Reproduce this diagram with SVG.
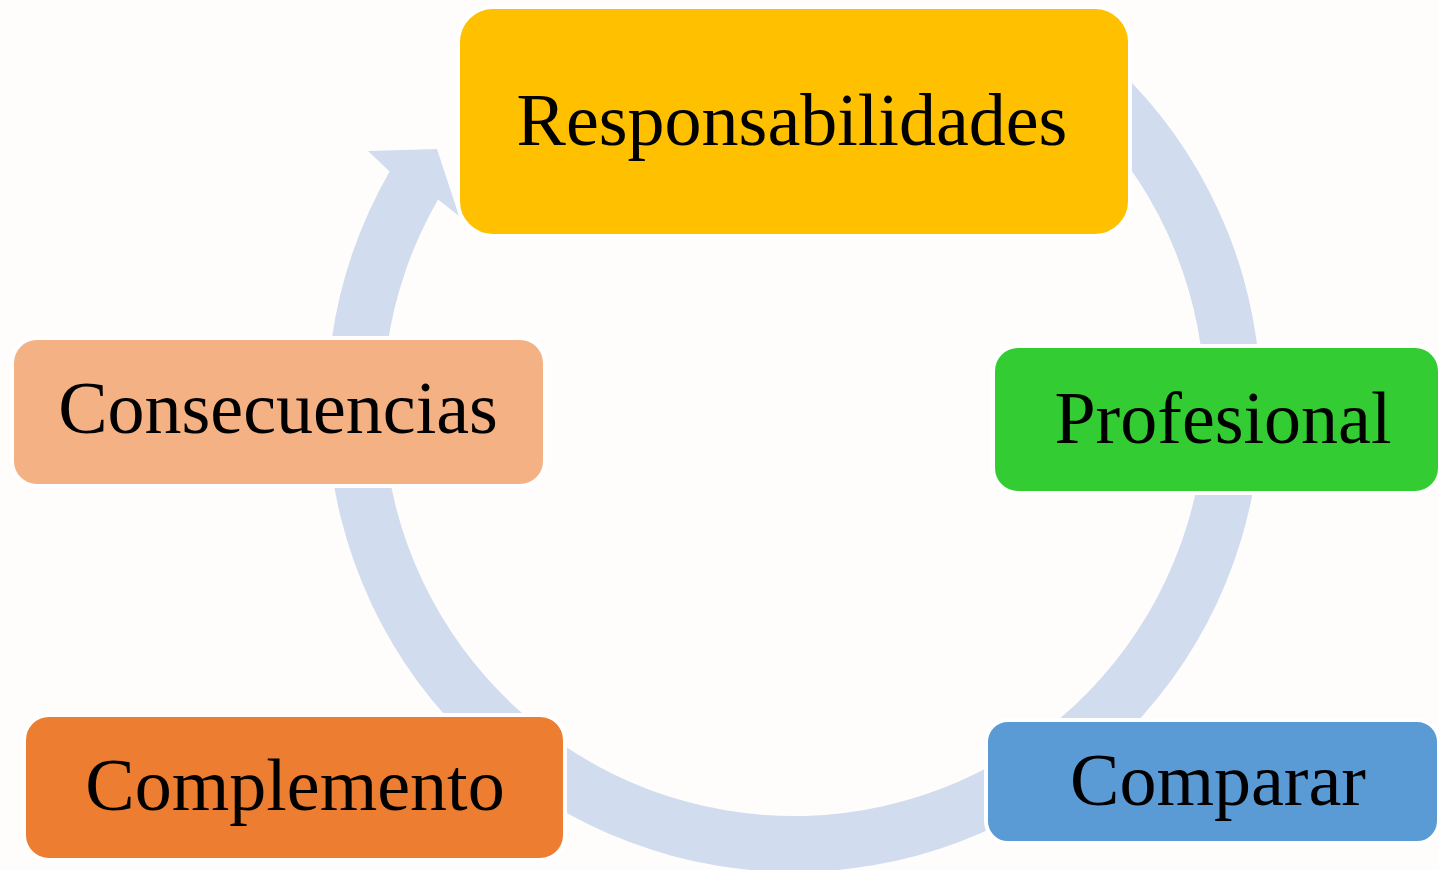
<svg xmlns="http://www.w3.org/2000/svg" width="1439" height="870" viewBox="0 0 1439 870">
<style>
.node rect{stroke:#FFFFFF;stroke-width:4}
.node text{font-family:"Liberation Serif","Times New Roman",serif;font-size:74px;fill:#000000;text-anchor:middle}
.ring{fill:#D1DDEF}
</style>
<rect x="0" y="0" width="1439" height="870" fill="#FFFDFC"/>
<g id="connectors">
<path class="ring" d="M 1061.9 22.5 A 467 467 0 1 1 389.6 171.5 L 368 151 L 437 149 L 459 216 L 438.1 199.5 A 411 411 0 1 0 1029.7 68.3 Z"/>
</g>
<g id="node-responsabilidades" class="node">
<rect x="458" y="7" width="672" height="229" rx="35" fill="#FFC000"/>
<text x="792" y="145">Responsabilidades</text>
</g>
<g id="node-profesional" class="node">
<rect x="993" y="346" width="447" height="147" rx="25" fill="#33CC33"/>
<text x="1223" y="443">Profesional</text>
</g>
<g id="node-comparar" class="node">
<rect x="986" y="720" width="453" height="123" rx="22" fill="#5B9BD5"/>
<text x="1218" y="805">Comparar</text>
</g>
<g id="node-complemento" class="node">
<rect x="24" y="715" width="541" height="145" rx="25" fill="#ED7D31"/>
<text x="295" y="810">Complemento</text>
</g>
<g id="node-consecuencias" class="node">
<rect x="12" y="338" width="533" height="148" rx="25" fill="#F4B183"/>
<text x="278" y="433">Consecuencias</text>
</g>
</svg>
